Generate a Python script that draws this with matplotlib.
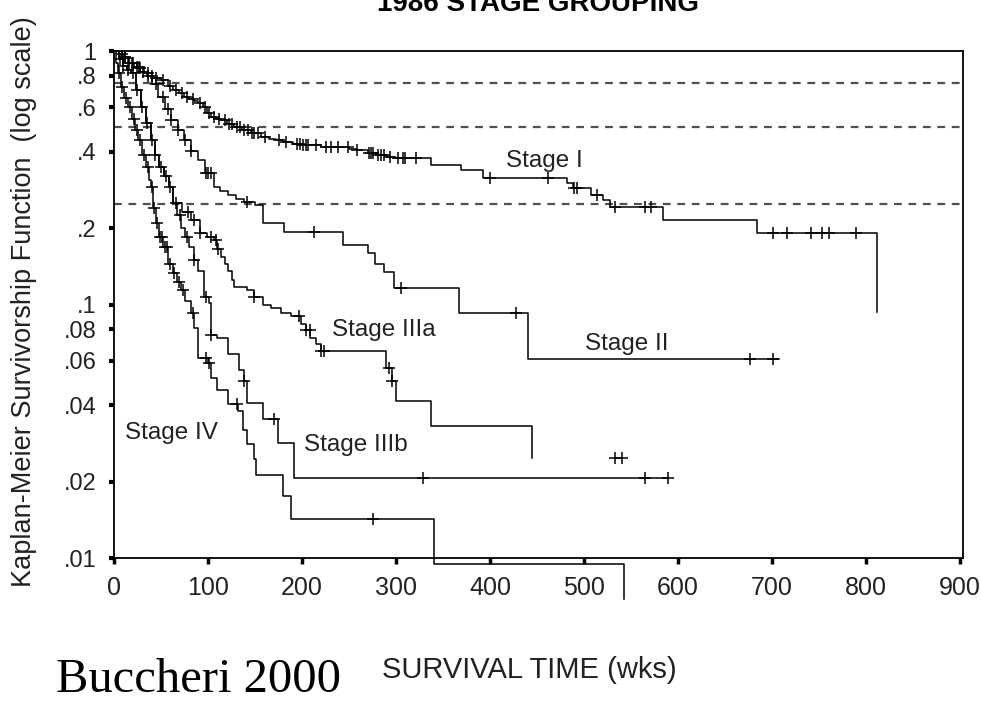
import numpy as np
import matplotlib
matplotlib.use('Agg')
import matplotlib.pyplot as plt

# Kaplan-Meier curves (weeks, survival after the step)
stage1_t = [0, 5, 10, 15, 21, 28, 35, 42, 50, 57, 63, 69, 74, 80, 85, 89, 95, 99, 103, 108,
            114, 120, 128, 136, 146, 156, 165, 172, 180, 190, 199, 220, 241, 250, 259, 270,
            281, 290, 298, 337, 369, 393, 482, 488, 507, 520, 528, 584, 684, 812]
stage1_s = [1.0, .97, .94, .90, .864, .83, .80, .785, .768, .73, .70, .68, .658, .645, .635,
            .623, .60, .57, .548, .54, .534, .515, .50, .487, .474, .457, .45, .445, .437, .43,
            .425, .42, .417, .412, .406, .397, .388, .382, .377, .354, .339, .315, .301, .287,
            .270, .258, .242, .215, .191, .0932]
stage1_end = 812
stage1_cens = [8, 12, 16, 19, 24, 27, 31, 36, 40, 45, 52, 60, 66, 72, 78, 84, 92, 97, 101, 106,
               112, 118, 122, 126, 131, 134, 138, 143, 147, 149, 153, 161, 175, 183, 195, 198,
               201, 204, 206, 215, 225, 231, 238, 249, 259, 271, 273, 276, 281, 284, 287, 294,
               302, 307, 310, 321, 400, 462, 489, 493, 514, 533, 565, 571, 701, 716, 741, 753,
               760, 789]

stage2_t = [0, 8, 16, 24, 32, 40, 47, 54, 61, 68, 74, 82, 89, 97, 106, 113, 121, 130, 138, 150,
            159, 181, 244, 270, 278, 287, 298, 367, 440]
stage2_s = [1.0, .95, .90, .86, .819, .74, .658, .59, .534, .49, .445, .405, .371, .33, .290,
            .28, .270, .26, .253, .246, .209, .193, .171, .160, .145, .134, .116, .0922, .0612]
stage2_end = 707
stage2_cens = [12, 20, 28, 36, 45, 52, 57, 61, 68, 76, 82, 98, 100, 103, 142, 213, 305, 428,
               676, 701]

stage3a_t = [0, 5, 10, 14, 18, 23, 29, 34, 39, 44, 48, 53, 58, 63, 72, 82, 92, 99, 106, 110,
             114, 118, 121, 125, 128, 142, 149, 158, 167, 178, 188, 199, 204, 209, 215, 220,
             289, 296, 300, 337, 445]
stage3a_s = [1.0, .93, .87, .84, .819, .70, .601, .52, .445, .39, .348, .32, .290, .251, .232,
             .215, .191, .185, .179, .165, .154, .145, .136, .125, .117, .114, .107, .10, .0965,
             .093, .0905, .084, .079, .074, .07, .0658, .0564, .050, .0417, .0333, .0248]
stage3a_end = 445
stage3a_cens = [79, 85, 92, 103, 108, 111, 149, 197, 204, 208, 220, 223, 293, 296, 533, 540]

stage3b_t = [0, 5, 10, 14, 18, 23, 29, 34, 39, 44, 48, 53, 58, 63, 67, 71, 75, 80, 85, 89, 96,
             101, 103, 110, 121, 133, 138, 142, 159, 174, 191]
stage3b_s = [1.0, .93, .87, .84, .819, .70, .601, .52, .445, .39, .348, .32, .290, .251, .225,
             .201, .185, .168, .15, .136, .107, .101, .0755, .0735, .064, .055, .050, .0409,
             .0354, .0284, .0207]
stage3b_end = 589
stage3b_cens = [6, 10, 15, 20, 25, 30, 35, 40, 44, 50, 55, 60, 66, 70, 78, 85, 98, 103, 138,
                170, 329, 565, 589]

stage4_t = [0, 2, 4, 7, 11, 15, 19, 22, 26, 30, 34, 37, 39, 42, 45, 48, 52, 57, 63, 67, 71, 76,
            82, 85, 89, 100, 103, 110, 121, 132, 137, 142, 149, 151, 180, 188, 340, 542]
stage4_s = [1.0, .90, .819, .72, .65, .601, .54, .49, .445, .39, .348, .31, .290, .24, .209,
            .185, .168, .145, .133, .123, .114, .103, .093, .081, .0615, .0586, .0515, .0458,
            .0405, .0381, .0319, .0282, .0245, .0212, .0176, .0142, .0095, .0069]
stage4_end = 542
stage4_cens = [5, 9, 13, 17, 21, 24, 28, 32, 36, 40, 43, 46, 49, 51, 54, 56, 60, 64, 69, 73,
               84, 98, 101, 131, 275]

ref_lines = [0.75, 0.5, 0.25]
y_ticks = [0.01, 0.02, 0.04, 0.06, 0.08, 0.1, 0.2, 0.4, 0.6, 0.8, 1]
y_labels = ['.01', '.02', '.04', '.06', '.08', '.1', '.2', '.4', '.6', '.8', '1']
x_ticks = [0, 100, 200, 300, 400, 500, 600, 700, 800, 900]

labels = ['Stage I', 'Stage II', 'Stage IIIa', 'Stage IIIb', 'Stage IV']
label_x = [458, 545, 287, 257, 61]
label_y = [0.367, 0.0701, 0.0797, 0.0280, 0.0312]

sans = ['Liberation Sans', 'DejaVu Sans']

fig = plt.figure(figsize=(9.81, 7.02), dpi=100)
ax = fig.add_axes([0.1162, 0.2051, 0.8654, 0.7222])
ax.set_yscale('log')
ax.set_xlim(0, 903)
ax.set_ylim(0.01, 1)

for v in ref_lines:
    ax.axhline(v, color='#505050', lw=1.6, ls=(0, (3.5, 3)), zorder=1)


def km(times, surv, t_end, cens, clip=True):
    times = np.array(times, dtype=float)
    surv = np.array(surv, dtype=float)
    x = np.append(times, t_end)
    y = np.append(surv, surv[-1])
    ax.plot(x, y, drawstyle='steps-post', color='k', lw=1.1, clip_on=clip, zorder=3)
    c = np.array(cens, dtype=float)
    idx = np.searchsorted(times, c, side='right') - 1
    ax.plot(c, surv[idx], ls='none', marker='+', ms=9, mew=1.1, color='k', zorder=4)


km(stage1_t, stage1_s, stage1_end, stage1_cens)
km(stage2_t, stage2_s, stage2_end, stage2_cens)
km(stage3a_t, stage3a_s, stage3a_end, stage3a_cens)
km(stage3b_t, stage3b_s, stage3b_end, stage3b_cens)
km(stage4_t, stage4_s, stage4_end, stage4_cens, clip=False)  # tail drops under the axis

for lab, lx, ly in zip(labels, label_x, label_y):
    ax.text(lx, ly, lab, ha='center', va='center', fontsize=17.5, family=sans, color='#222222')

ax.set_yticks(y_ticks)
ax.set_yticklabels(y_labels)
ax.yaxis.set_minor_locator(matplotlib.ticker.NullLocator())
ax.set_xticks(x_ticks)
ax.tick_params(axis='y', direction='out', length=3.5, width=3, pad=9, labelsize=17)
ax.tick_params(axis='x', direction='out', length=4, width=2.5, pad=9, labelsize=18)
for t in ax.get_xticklabels() + ax.get_yticklabels():
    t.set_family(sans)
    t.set_color('#222222')
for sp in ax.spines.values():
    sp.set_linewidth(1.3)

fig.text(0.0245, 0.571, 'Kaplan-Meier Survivorship Function  (log scale)', rotation=90,
         ha='center', va='center', fontsize=19.5, family=sans, color='#222222')
fig.text(0.540, 0.0342, 'SURVIVAL TIME (wks)', ha='center', va='baseline', fontsize=21,
         family=sans, color='#222222')
fig.text(0.057, 0.014, 'Buccheri 2000', ha='left', va='baseline', fontsize=35,
         family=['Liberation Serif', 'DejaVu Serif'])
# title sits mostly above the top edge, as in the scanned figure
fig.text(0.548, 0.9843, '1986 STAGE GROUPING', ha='center', va='baseline', fontsize=20,
         weight='bold', family=sans)

fig.savefig('out.png', dpi=100)
